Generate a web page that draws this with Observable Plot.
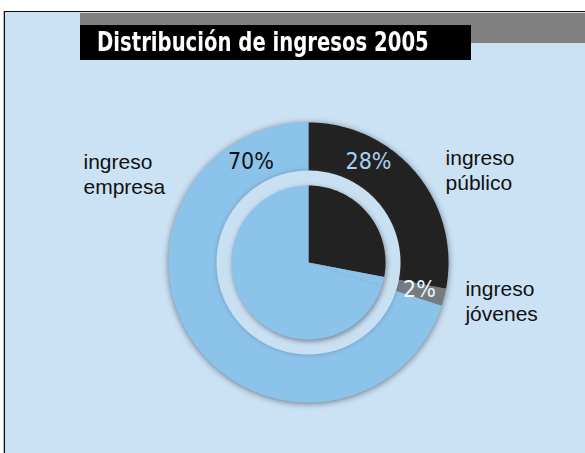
<!DOCTYPE html>
<html>
<head>
<meta charset="utf-8">
<script src="https://cdn.jsdelivr.net/npm/d3@7"></script>
<script src="https://cdn.jsdelivr.net/npm/@observablehq/plot@0.6"></script>
<style>
  html, body { margin: 0; padding: 0; background: #ffffff; }
  #wrap { position: relative; width: 585px; height: 453px; overflow: hidden; }
  #panel { position: absolute; left: 4px; top: 11px; width: 581px; height: 442px;
           background: #cbe1f4; border-left: 1.5px solid #111; border-top: 1.5px solid #111;
           box-shadow: -1px 0 0 #b8b8b8; box-sizing: border-box; }
  #band { position: absolute; left: 80px; top: 12.5px; width: 505px; height: 30.5px; background: #808080; }
  #title { position: absolute; left: 80px; top: 25px; width: 391px; height: 35px; background: #000;
           overflow: hidden; box-sizing: border-box; padding-left: 17px; white-space: nowrap; }
  #title span { display: inline-block; color: #fff;
           font-family: "DejaVu Sans Condensed", "Liberation Sans", sans-serif;
           font-weight: bold; font-size: 26px; line-height: 35px;
           transform: scaleX(0.84); transform-origin: 0 50%; }
  #chart { position: absolute; left: 0; top: 0; }
  #chart svg g.outer { filter: drop-shadow(0px 1px 3px rgba(40,50,60,0.6)); }
  #chart svg g.bandring { filter: drop-shadow(0px 0px 2px rgba(60,70,80,0.35)); }
  #chart svg g.inner { filter: drop-shadow(1px 2px 2.5px rgba(40,50,60,0.5)); }
</style>
</head>
<body>
<div id="wrap">
  <div id="panel"></div>
  <div id="band"></div>
  <div id="chart"></div>
  <div id="title"><span>Distribución de ingresos 2005</span></div>
</div>
<script>
// ---- data ----
const categories = ["ingreso público", "ingreso jóvenes", "ingreso empresa"];
const shares = [28, 2, 70];
const pctLabels = ["28%", "2%", "70%"];
const sliceColors = ["#222222", "#767b80", "#8bc3eb"];
const innerColors = ["#222222", "#8bc3eb", "#8bc3eb"];
const labelLines = [["ingreso", "público"], ["ingreso", "jóvenes"], ["ingreso", "empresa"]];

// ---- layout (in units of the outer radius) ----
const R_OUT = 1, R_BAND = 92 / 140, R_IN = 77 / 140;
const pctPlacement = [ {angle: 30.7, r: 0.839}, {angle: 103.7, r: 0.816}, {angle: 330.3, r: 0.83} ];
const pctFill = ["#a9d0f1", "#eef5fb", "#111111"];
const catPlacement = [ {x: 0.979, y: 0.664}, {x: 1.121, y: -0.27}, {x: -1.607, y: 0.637} ];

const arcs = d3.pie().sort(null).value(d => d)(shares);

function wedgePts(arcList, r0, r1, colors) {
  const pts = [];
  arcList.forEach((a, i) => {
    const n = Math.max(2, Math.ceil((a.endAngle - a.startAngle) / (2 * Math.PI) * 360));
    for (let k = 0; k <= n; k++) {
      const t = a.startAngle + (a.endAngle - a.startAngle) * k / n;
      pts.push({x: r1 * Math.sin(t), y: r1 * Math.cos(t), key: i, color: colors[i]});
    }
    if (r0 > 0) {
      for (let k = n; k >= 0; k--) {
        const t = a.startAngle + (a.endAngle - a.startAngle) * k / n;
        pts.push({x: r0 * Math.sin(t), y: r0 * Math.cos(t), key: i, color: colors[i]});
      }
    } else {
      pts.push({x: 0, y: 0, key: i, color: colors[i]});
    }
  });
  return pts;
}

const outerPts = wedgePts(arcs, 0, R_OUT, sliceColors);
const bandPts = wedgePts(d3.pie().value(d => d)([1]), 0, R_BAND, ["#c9dff2"]);
const innerPts = wedgePts(arcs, 0, R_IN, innerColors);

const pctData = pctLabels.map((t, i) => {
  const a = pctPlacement[i].angle * Math.PI / 180;
  return {text: t, x: pctPlacement[i].r * Math.sin(a), y: pctPlacement[i].r * Math.cos(a), fill: pctFill[i]};
});
const catData = categories.map((c, i) => ({text: labelLines[i].join("\n"), x: catPlacement[i].x, y: catPlacement[i].y}));

const plot = Plot.plot({
  width: 585, height: 453,
  margin: 0,
  x: {domain: [-308 / 140, 277 / 140], axis: null},
  y: {domain: [-191 / 140, 262 / 140], axis: null},
  color: {type: "identity"},
  style: {background: "transparent", overflow: "visible"},
  marks: [
    Plot.line(outerPts, {x: "x", y: "y", z: "key", fill: "color", stroke: null, curve: "linear", className: "outer"}),
    Plot.line(bandPts, {x: "x", y: "y", z: "key", fill: "color", stroke: null, curve: "linear", className: "bandring"}),
    Plot.line(innerPts, {x: "x", y: "y", z: "key", fill: "color", stroke: null, curve: "linear", className: "inner"}),
    Plot.text(pctData, {x: "x", y: "y", text: "text", fill: "fill", fontSize: 23,
      fontFamily: "'DejaVu Sans Condensed', 'Liberation Sans', sans-serif", textAnchor: "middle"}),
    Plot.text(catData, {x: "x", y: "y", text: "text", fill: "#111", fontSize: 21, lineHeight: 1.2,
      fontFamily: "'Liberation Sans', Arial, sans-serif", textAnchor: "start"})
  ]
});
document.getElementById("chart").appendChild(plot);
// ensure classes for filters if className isn't supported
const lineGroups = plot.querySelectorAll('g[aria-label="line"]');
const cls = ["outer", "bandring", "inner"];
lineGroups.forEach((g, i) => { if (cls[i]) g.classList.add(cls[i]); });
</script>
</body>
</html>
